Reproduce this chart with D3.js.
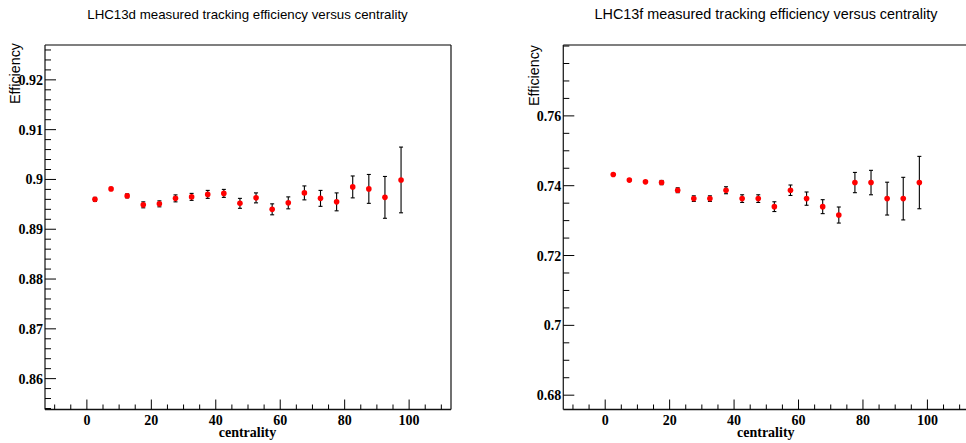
<!DOCTYPE html>
<html>
<head>
<meta charset="utf-8">
<script src="https://cdn.jsdelivr.net/npm/d3@7/dist/d3.min.js"></script>
<style>
  html, body { margin: 0; padding: 0; background: #fff; }
  svg { display: block; }
</style>
</head>
<body>
<svg id="chart" width="966" height="443"></svg>
<script>
// ---- data ----
const centrality = [2.5, 7.5, 12.5, 17.5, 22.5, 27.5, 32.5, 37.5, 42.5, 47.5,
                    52.5, 57.5, 62.5, 67.5, 72.5, 77.5, 82.5, 87.5, 92.5, 97.5];

const effD = [0.8960, 0.8981, 0.8967, 0.8949, 0.8951, 0.8962, 0.8965, 0.8970, 0.8972, 0.8952,
              0.8963, 0.8940, 0.8953, 0.8973, 0.8962, 0.8955, 0.8985, 0.8981, 0.8964, 0.8999];
const errD = [0.0004, 0.0003, 0.0004, 0.0006, 0.0006, 0.0007, 0.0007, 0.0008, 0.0008, 0.0010,
              0.0010, 0.0011, 0.0012, 0.0014, 0.0016, 0.0018, 0.0022, 0.0029, 0.0042, 0.0066];

const effF = [0.7432, 0.7416, 0.7411, 0.7409, 0.7387, 0.7363, 0.7363, 0.7387, 0.7363, 0.7363,
              0.7340, 0.7387, 0.7363, 0.7340, 0.7316, 0.7409, 0.7409, 0.7363, 0.7363, 0.7409];
const errF = [0.0002, 0.0002, 0.0002, 0.0006, 0.0007, 0.0008, 0.0008, 0.0010, 0.0011, 0.0011,
              0.0014, 0.0015, 0.0019, 0.0020, 0.0023, 0.0029, 0.0035, 0.0047, 0.0061, 0.0075];

const titles = ["LHC13d measured tracking efficiency versus centrality",
                "LHC13f measured tracking efficiency versus centrality"];
const xTicksMajor = [0, 20, 40, 60, 80, 100];
const yTicksD = [0.86, 0.87, 0.88, 0.89, 0.90, 0.91, 0.92];
const yTicksF = [0.68, 0.70, 0.72, 0.74, 0.76];
const xTitle = "centrality";
const yTitle = "Efficiency";

// ---- layout ----
const svg = d3.select("#chart");
const panels = [
  { left: 45, right: 451, top: 45, bottom: 409.5, ydom: [0.8538, 0.9270],
    eff: effD, err: errD, yTicks: yTicksD, yMinorStep: 0.002, yFmt: d => d3.format("")(+d.toFixed(2)),
    title: titles[0], titleX: 247.5, titleSize: 13.3, yTitleX: 20, yTitleTop: 43 },
  { left: 563.3, right: 969.3, top: 45, bottom: 409.5, ydom: [0.6759, 0.7803],
    eff: effF, err: errF, yTicks: yTicksF, yMinorStep: 0.005, yFmt: d => d3.format("")(+d.toFixed(2)),
    title: titles[1], titleX: 766, titleSize: 14.4, yTitleX: 538.5, yTitleTop: 45 }
];

panels.forEach(p => {
  const x = d3.scaleLinear().domain([-13, 113]).range([p.left, p.right]);
  const y = d3.scaleLinear().domain(p.ydom).range([p.bottom, p.top]);
  const g = svg.append("g");

  // title
  g.append("text").attr("x", p.titleX).attr("y", 19).attr("text-anchor", "middle")
    .attr("font-family", "Liberation Sans, Arial, sans-serif").attr("font-size", p.titleSize)
    .attr("fill", "#000").text(p.title);

  // frame
  g.append("line").attr("x1", p.left).attr("x2", p.right).attr("y1", p.top).attr("y2", p.top)
    .attr("stroke", "#555").attr("stroke-width", 1.3);
  g.append("line").attr("x1", p.right).attr("x2", p.right).attr("y1", p.top).attr("y2", p.bottom)
    .attr("stroke", "#111").attr("stroke-width", 1.2);
  g.append("line").attr("x1", p.left).attr("x2", p.left).attr("y1", p.top).attr("y2", p.bottom)
    .attr("stroke", "#222").attr("stroke-width", 1.3);
  g.append("line").attr("x1", p.left).attr("x2", p.right).attr("y1", p.bottom).attr("y2", p.bottom)
    .attr("stroke", "#111").attr("stroke-width", 1.3);

  // x ticks
  const xMinor = d3.range(-10, 113, 5).filter(v => v % 20 !== 0);
  g.selectAll(".xmin").data(xMinor).join("line")
    .attr("x1", d => x(d)).attr("x2", d => x(d)).attr("y1", p.bottom).attr("y2", p.bottom - 5)
    .attr("stroke", "#000").attr("stroke-width", 1);
  g.selectAll(".xmaj").data(xTicksMajor).join("line")
    .attr("x1", d => x(d)).attr("x2", d => x(d)).attr("y1", p.bottom).attr("y2", p.bottom - 10)
    .attr("stroke", "#000").attr("stroke-width", 1);
  g.selectAll(".xlab").data(xTicksMajor).join("text")
    .attr("x", d => x(d)).attr("y", 425).attr("text-anchor", "middle")
    .attr("font-family", "Liberation Serif, Times New Roman, serif").attr("font-weight", "bold")
    .attr("font-size", 14).text(d => d);
  g.append("text").attr("x", (x(0) + x(100)) / 2 - 0.5).attr("y", 437).attr("text-anchor", "middle")
    .attr("font-family", "Liberation Serif, Times New Roman, serif").attr("font-weight", "bold")
    .attr("font-size", 14).text(xTitle);

  // y ticks
  const [y0, y1] = p.ydom;
  const yMinor = [];
  const start = Math.ceil(y0 / p.yMinorStep - 1e-6);
  for (let k = start; k * p.yMinorStep <= y1 + 1e-9; k++) {
    const v = +(k * p.yMinorStep).toFixed(4);
    if (!p.yTicks.some(t => Math.abs(t - v) < 1e-6)) yMinor.push(v);
  }
  g.selectAll(".ymin").data(yMinor).join("line")
    .attr("x1", p.left).attr("x2", p.left + 6).attr("y1", d => y(d)).attr("y2", d => y(d))
    .attr("stroke", "#000").attr("stroke-width", 1);
  g.selectAll(".ymaj").data(p.yTicks).join("line")
    .attr("x1", p.left).attr("x2", p.left + 11).attr("y1", d => y(d)).attr("y2", d => y(d))
    .attr("stroke", "#000").attr("stroke-width", 1);
  g.selectAll(".ylab").data(p.yTicks).join("text")
    .attr("x", p.left - 2).attr("y", d => y(d) + 5).attr("text-anchor", "end")
    .attr("font-family", "Liberation Serif, Times New Roman, serif").attr("font-weight", "bold")
    .attr("font-size", 14).text(d => p.yFmt(d));
  g.append("text")
    .attr("transform", `translate(${p.yTitleX},${p.yTitleTop}) rotate(-90)`)
    .attr("text-anchor", "end")
    .attr("font-family", "Liberation Sans, Arial, sans-serif").attr("font-size", 14.3)
    .text(yTitle);

  // data
  const pts = centrality.map((c, i) => ({ c, v: p.eff[i], e: p.err[i] }));
  const eb = g.append("g").attr("stroke", "#000").attr("stroke-width", 1.1);
  eb.selectAll(".ev").data(pts).join("line")
    .attr("x1", d => x(d.c)).attr("x2", d => x(d.c))
    .attr("y1", d => y(d.v - d.e)).attr("y2", d => y(d.v + d.e));
  eb.selectAll(".et").data(pts).join("line")
    .attr("x1", d => x(d.c) - 2).attr("x2", d => x(d.c) + 2)
    .attr("y1", d => y(d.v + d.e)).attr("y2", d => y(d.v + d.e));
  eb.selectAll(".eb").data(pts).join("line")
    .attr("x1", d => x(d.c) - 2).attr("x2", d => x(d.c) + 2)
    .attr("y1", d => y(d.v - d.e)).attr("y2", d => y(d.v - d.e));
  g.selectAll(".pt").data(pts).join("circle")
    .attr("cx", d => x(d.c)).attr("cy", d => y(d.v)).attr("r", 2.8)
    .attr("fill", "#ff0000");
});
</script>
</body>
</html>
